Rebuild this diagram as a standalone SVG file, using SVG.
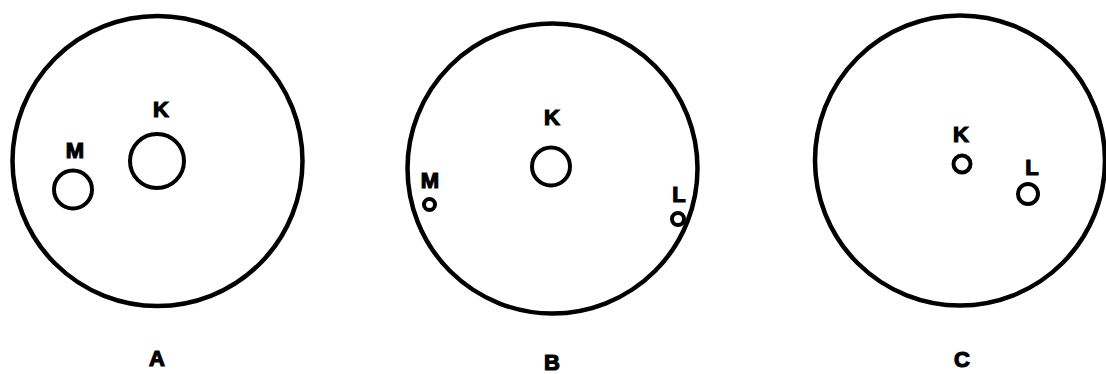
<svg xmlns="http://www.w3.org/2000/svg" width="1106" height="374" viewBox="0 0 1106 374">
<style>
.big{fill:none;stroke:#000;stroke-width:4.5}
.sm{fill:none;stroke:#000;stroke-width:4}
.t{font-family:"Liberation Sans",Arial,sans-serif;font-weight:bold;font-size:22px;fill:#000;stroke:#000;stroke-width:1.2;text-anchor:middle}
</style>
<rect width="1106" height="374" fill="#fff"/>
<g id="panelA">
<circle class="big" cx="157.5" cy="161" r="145"/>
<g id="A-K"><circle class="sm" cx="157" cy="161" r="27"/><text class="t" x="161" y="117">K</text></g>
<g id="A-M"><circle class="sm" cx="73" cy="189.5" r="19"/><text class="t" x="75" y="158">M</text></g>
<text class="t" x="157" y="366">A</text>
</g>
<g id="panelB">
<circle class="big" cx="552.5" cy="168.5" r="145"/>
<g id="B-K"><circle class="sm" cx="551" cy="166.5" r="19"/><text class="t" x="552" y="125">K</text></g>
<g id="B-M"><circle class="sm" cx="429.5" cy="204.5" r="5.5"/><text class="t" x="430" y="188">M</text></g>
<g id="B-L"><circle class="sm" cx="678" cy="219" r="6"/><text class="t" x="679" y="202">L</text></g>
<text class="t" x="552" y="370">B</text>
</g>
<g id="panelC">
<circle class="big" cx="960" cy="160.5" r="145"/>
<g id="C-K"><circle class="sm" cx="962" cy="164" r="8.5"/><text class="t" x="961" y="142">K</text></g>
<g id="C-L"><circle class="sm" cx="1028" cy="194" r="10"/><text class="t" x="1032" y="175">L</text></g>
<text class="t" x="962" y="367">C</text>
</g>
</svg>
